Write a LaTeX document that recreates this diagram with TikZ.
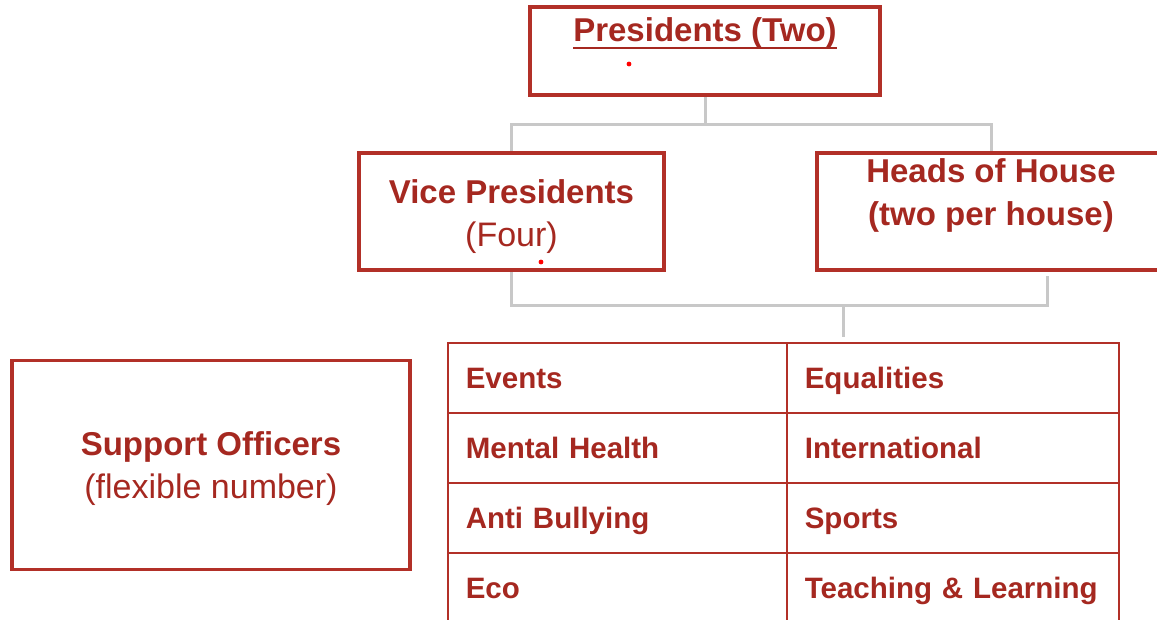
\documentclass[tikz,border=0pt]{standalone}
\usepackage{fontspec}
\setmainfont{Liberation Sans}
\definecolor{tred}{RGB}{165,40,32}
\definecolor{bred}{RGB}{178,48,40}
\definecolor{conn}{RGB}{200,200,200}
\begin{document}
\begin{tikzpicture}[x=1pt,y=-1pt,
 box/.style={draw=bred,line width=3.2pt,rectangle,inner sep=0pt},
 txt/.style={text=tred,align=center,inner sep=0pt,anchor=base,font=\fontsize{33}{43}\selectfont},
 cell/.style={draw=bred,line width=1.6pt,rectangle,anchor=north west,minimum height=70pt,inner xsep=18pt,inner ysep=0pt,text height=25pt,text depth=4pt,text=tred,align=left,font=\bfseries\fontsize{29.5}{35}\selectfont},
 link/.style={draw=conn,line width=3pt},
 dot/.style={fill=red}]
\useasboundingbox (0,0) rectangle (1157,619);
\clip (0,0) rectangle (1157,619);
% table
\node[cell,text width=303pt] (c11) at (447,342) {Events};
\node[cell,text width=296pt] (c12) at (786,342) {Equalities};
\node[cell,text width=303pt] (c21) at (447,412) {Mental Health};
\node[cell,text width=296pt] (c22) at (786,412) {International};
\node[cell,text width=303pt] (c31) at (447,482) {Anti Bullying};
\node[cell,text width=296pt] (c32) at (786,482) {Sports};
\node[cell,text width=303pt] (c41) at (447,552) {Eco};
\node[cell,text width=296pt] (c42) at (786,552) {Teaching \& Learning};
% connector junctions
\coordinate (j1) at (705,124);
\coordinate (j2) at (843,305);
\coordinate (h1) at (1047,276);
\coordinate (p0) at (705,95);
\coordinate (v0) at (511.5,153);
\coordinate (v1) at (511.5,270);
\coordinate (hh) at (991,153);
\draw[link] (p0) -- (j1);
\draw[link] (j1) -| (v0);
\draw[link] (j1) -| (hh);
\draw[link] (v1) |- (j2);
\draw[link] (h1) |- (j2);
\draw[link] (j2) -- ([yshift=5pt]j2 |- c12.north);
% boxes
\node[box,minimum width=350pt,minimum height=88pt] (pres) at (705,51) {};
\node[box,minimum width=305pt,minimum height=117pt] (vp) at (511.5,211.5) {};
\node[box,minimum width=348pt,minimum height=117pt] (hoh) at (991,211.5) {};
\node[box,minimum width=398pt,minimum height=209pt] (sup) at (211,465) {};
% texts
\node[txt,font=\bfseries\fontsize{33}{43}\selectfont] (ptext) at (705,41) {Presidents (Two)};
\draw[tred,line width=2.6pt] ([yshift=-7pt]ptext.base west) -- ([yshift=-7pt]ptext.base east);
\node[txt] (vpt) at (511.5,246) {\textbf{Vice Presidents}\\{\fontsize{34}{43}\selectfont (Four)}};
\node[txt,font=\bfseries\fontsize{33}{43}\selectfont] (hoht) at (991,225) {Heads of House\\(two per house)};
\node[txt] (supt) at (211,498) {\textbf{Support Officers}\\{\fontsize{34}{43}\selectfont (flexible number)}};
% stray dots
\fill[dot] (629,64) circle (2.4pt);
\fill[dot] (541,262) circle (2.4pt);
\end{tikzpicture}
\end{document}
